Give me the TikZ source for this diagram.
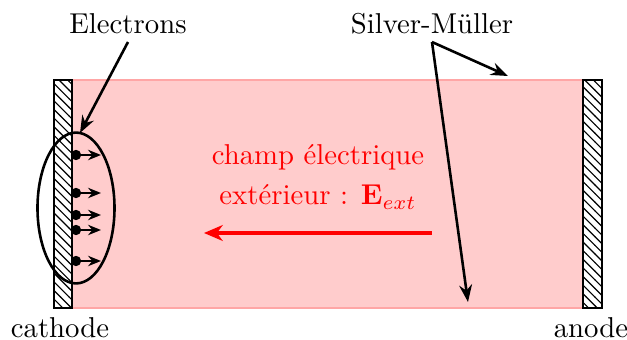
\documentclass[tikz,border=0pt]{standalone}
\usetikzlibrary{patterns,arrows.meta,shapes.geometric}
\begin{document}
\begin{tikzpicture}[x=0.348pt,y=-0.348pt,
  wall/.style={draw=black,line width=0.4pt,pattern=north west lines},
  ptr/.style={line width=0.9pt,-{Stealth[length=6pt,width=4.5pt,inset=2pt]}},
  elec/.style={line width=0.8pt,-{Stealth[length=4.5pt,width=3.6pt,inset=1.5pt]}},
  lbl/.style={inner sep=1pt}]
\useasboundingbox (0,0) rectangle (627,340);
% plasma region
\fill[red!20] (72,80) rectangle (583,308);
\draw[red!35,line width=1pt] (72,80) -- (583,80);
\draw[red!35,line width=1pt] (72,308) -- (583,308);
% walls
\draw[wall] (54,80) rectangle (72,308);
\draw[wall] (583,80) rectangle (602,308);
% electrons
\foreach \yy/\nm in {155/a,193/b,215/c,230/d,261/e}{
  \fill (76,\yy) circle (1.8pt);
  \coordinate (s\nm) at (76,\yy);
  \coordinate (t\nm) at (101,\yy);
  \draw[elec] (s\nm) -- (t\nm);
}
\node[draw,ellipse,line width=0.9pt,minimum width=26.8pt,minimum height=52.5pt,inner sep=0pt] (ell) at (76,208) {};
% labels
\node[lbl] (electrons) at (128,24) {Electrons};
\node[lbl] (sm) at (432,24) {Silver-M\"uller};
\node[lbl] (cathode) at (60,328) {cathode};
\node[lbl] (anode) at (591,328) {anode};
\node[lbl,text=red,align=center] (champ) at (318,177) {champ \'electrique\\[2pt] ext\'erieur : $\mathbf{E}_{ext}$};
% pointers
\coordinate (elstart) at (128,42);
\coordinate (elend) at (80,133);
\draw[ptr] (elstart) -- (elend);
\coordinate (smstart) at (432,42);
\coordinate (smtop) at (508,76);
\coordinate (smbot) at (468,302);
\draw[ptr] (smstart) -- (smtop);
\draw[ptr] (smstart) -- (smbot);
% field arrow
\coordinate (fa) at (432,233);
\coordinate (fb) at (204,233);
\draw[red,line width=1.4pt,-{Stealth[length=6.5pt,width=5.5pt,inset=2pt]}] (fa) -- (fb);
\end{tikzpicture}
\end{document}
